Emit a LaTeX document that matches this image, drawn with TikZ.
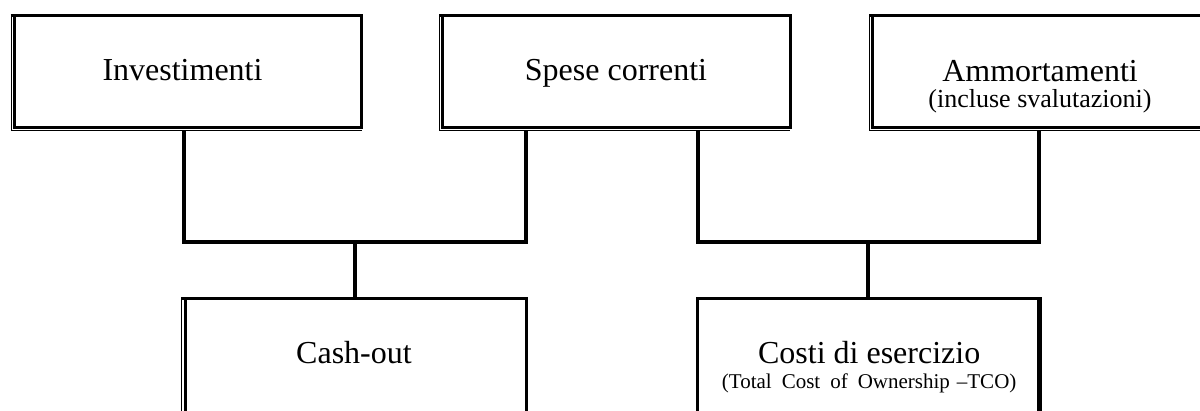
\documentclass[tikz,border=0pt]{standalone}
\usepackage{fontspec}
\setmainfont{Liberation Serif}
\usetikzlibrary{calc}
\begin{document}
\begin{tikzpicture}[x=1pt,y=-1pt,
  topbox/.style={rectangle,draw=none,inner sep=0pt,minimum width=350pt,minimum height=115pt},
  botbox/.style={rectangle,draw=none,inner sep=0pt,minimum height=171pt},
  thinb/.style={line width=1.3pt,line join=miter},
  thickb/.style={line width=3pt,line join=miter},
  conn/.style={line width=4pt,line join=miter},
  txt/.style={inner sep=0pt,anchor=base,font=\fontsize{32}{38}\selectfont},
  subtxt/.style={inner sep=0pt,anchor=base}]
\useasboundingbox (0,0) rectangle (1200,410);
\clip (0,0) rectangle (1200,410);

% boxes
\node[topbox] (b1) at (186.5,73) {};
\node[topbox] (b2) at (615,73) {};
\node[topbox] (b3) at (1045,73) {};
\node[botbox,minimum width=344pt] (b4) at (354,384.5) {};
\node[botbox,minimum width=343.3pt] (b5) at (869.15,384.5) {};

% borders of the top boxes
\foreach \n in {b1,b2,b3}{
  \draw[thinb] (\n.north west) -- (\n.south west) -- (\n.south east);
  \draw[thickb] ($(\n.north west)+(3,0)$) -- ($(\n.south west)+(3,-3)$) -- ($(\n.south east)+(0,-3)$);
  \draw[thickb] ($(\n.north west)+(-0.65,0)$) -- (\n.north east) -- ($(\n.south east)+(0,-1.5)$);
}
% borders of the bottom boxes
\draw[thinb] (b4.north west) -- (b4.south west);
\draw[thickb] ($(b4.north west)+(3.5,0)$) -- ($(b4.south west)+(3.5,0)$);
\draw[thickb] ($(b4.north west)+(-0.65,0)$) -- (b4.north east) -- (b4.south east);
\draw[thickb] (b5.south west) -- (b5.north west) -- ($(b5.north east)+(0.65,0)$);
\draw[thickb] ($(b5.north east)+(-3,0)$) -- ($(b5.south east)+(-3,0)$);
\draw[thinb] (b5.north east) -- (b5.south east);

% connector columns
\coordinate (c1) at (184,242);
\coordinate (c2) at (526,242);
\coordinate (m1) at (355,242);
\coordinate (c3) at (697.5,242);
\coordinate (c4) at (1038.5,242);
\coordinate (m2) at (868,242);

\draw[conn] (b1.south -| c1) -- (c1) -- (c2) -- (b2.south -| c2);
\draw[conn] (m1) -- (b4.north -| m1);
\draw[conn] (b2.south -| c3) -- (c3) -- (c4) -- (b3.south -| c4);
\draw[conn] (m2) -- (b5.north -| m2);

% texts
\node[txt] (t1) at ($(b1.center)+(-4,7)$) {Investimenti};
\node[txt] (t2) at ($(b2.center)+(1,7)$) {Spese correnti};
\node[txt] (t3) at ($(b3.center)+(-5,8)$) {Ammortamenti};
\node[subtxt,font=\fontsize{26}{30}\selectfont] (t3s) at ($(b3.center)+(-5,34)$) {(incluse svalutazioni)};
\node[txt] (t4) at ($(b4.center)+(0,-21.5)$) {Cash-out};
\node[txt] (t5) at ($(b5.center)+(0,-21.5)$) {Costi di esercizio};
\node[subtxt,font=\fontsize{21}{25}\selectfont] (t5s) at ($(b5.center)+(0,3.5)$) {(Total\hspace{10pt}Cost\hspace{10pt}of\hspace{10pt}Ownership\hspace{7pt}–TCO)};
\end{tikzpicture}
\end{document}
